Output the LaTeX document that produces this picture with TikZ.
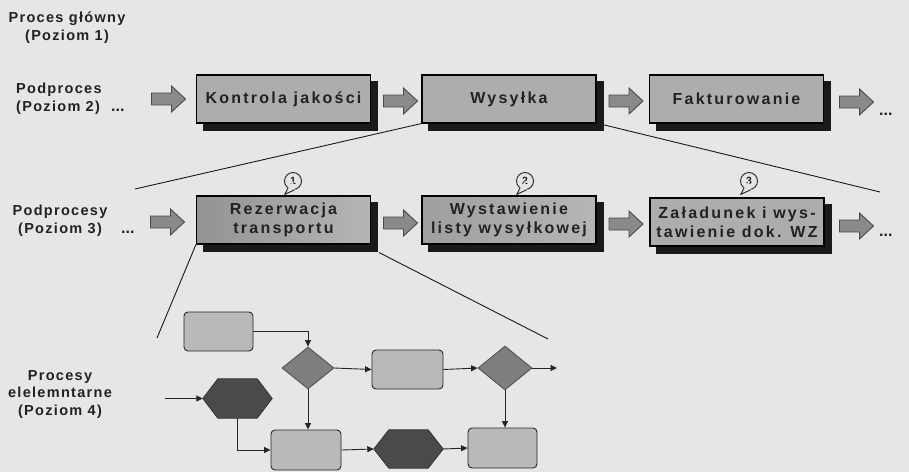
\documentclass[tikz,border=0pt]{standalone}
\usepackage{fontspec}
\setmainfont{Liberation Sans}
\usetikzlibrary{arrows.meta,shapes.geometric,shadows,calc}

\definecolor{pagebg}{HTML}{E6E6E6}
\definecolor{ink}{HTML}{222222}
\definecolor{boxfill}{HTML}{ADADAD}
\definecolor{boxshade}{HTML}{1A1A1A}
\definecolor{arrowfill}{HTML}{8A8A8A}
\definecolor{arrowline}{HTML}{4A4A4A}
\definecolor{stepfill}{HTML}{B9B9B9}
\definecolor{decfill}{HTML}{7E7E7E}
\definecolor{hexfill}{HTML}{4A4A4A}

\newcommand\boxfont{\fontsize{16}{19}\selectfont\bfseries\addfontfeature{LetterSpace=14}}
\newcommand\lblfont{\fontsize{14.5}{17.5}\selectfont\bfseries\addfontfeature{LetterSpace=9}}

% hexagonal event shape drawn over an invisible rectangular node
\newcommand\hexshape[1]{%
  \filldraw[hexstyle] (#1.west) -- ($(#1.north west)+(15,0)$) -- ($(#1.north east)+(-15,0)$)
    -- (#1.east) -- ($(#1.south east)+(-15,0)$) -- ($(#1.south west)+(15,0)$) -- cycle;}

\begin{document}
\begin{tikzpicture}[x=1pt,y=-1pt,
  procbox/.style={draw=black, line width=1.1pt, fill=boxfill, text=ink,
    minimum width=174pt, minimum height=48pt, inner sep=1pt, align=center, font=\boxfont,
    general shadow={shadow xshift=7pt, shadow yshift=-7pt, fill=boxshade, draw=boxshade}},
  lvllabel/.style={text=ink, font=\lblfont, align=center, inner sep=0pt},
  dots/.style={text=ink, inner sep=0pt, anchor=base west, font=\fontsize{16}{16}\selectfont\bfseries},
  fatarrow/.pic={\filldraw[fill=arrowfill, draw=arrowline, line width=0.9pt]
    (-17,-6) -- (3,-6) -- (3,-13) -- (17,0) -- (3,13) -- (3,6) -- (-17,6) -- cycle;},
  callout/.style={circle, draw=ink, line width=0.9pt, fill=pagebg, minimum size=17pt,
    inner sep=0pt, font=\fontsize{10.5}{10.5}\selectfont\bfseries, text=ink},
  stepbox/.style={rectangle, rounded corners=4pt, draw=black!85, line width=0.9pt,
    fill=stepfill, minimum width=69pt, minimum height=39pt, inner sep=0pt},
  decision/.style={diamond, draw=black!70, line width=0.8pt, fill=decfill,
    minimum width=52pt, minimum height=42pt, inner sep=0pt},
  hexnode/.style={rectangle, minimum width=69pt, minimum height=39pt, inner sep=0pt},
  hexstyle/.style={fill=hexfill, draw=black!80, line width=0.8pt},
  flow/.style={draw=black!85, line width=0.9pt, -{Triangle[length=6.5pt,width=6pt]}},
  zoomline/.style={draw=black!90, line width=0.9pt}
]
\fill[pagebg] (0,0) rectangle (909,472);
\useasboundingbox (0,0) rectangle (909,472);

% ---- level labels (anchored at the baseline of their last line) ----
\node[lvllabel, anchor=base] (l1) at (67,40) {Proces główny\\(Poziom 1)};
\node[lvllabel, anchor=base west, align=left] (l2) at (16,111) {Podproces\\(Poziom 2)};
\node[dots] (l2dots) at (111,111) {...};
\node[lvllabel, anchor=base] (l3) at (60,233) {Podprocesy\\(Poziom 3)};
\node[dots] (l3dots) at (121,233) {...};
\node[lvllabel, anchor=base] (l4) at (60,415) {Procesy\\elelemntarne\\(Poziom 4)};

% ---- level 2 ----
\node[procbox] (k) at (283.5,99) {Kontrola jakości};
\node[procbox] (w) at (509,99) {Wysyłka};
\node[procbox] (f) at (736.5,99) {Fakturowanie};
\pic at (168.5,99) {fatarrow};
\pic at (400.5,101) {fatarrow};
\pic at (626,101) {fatarrow};
\pic at (856.5,102) {fatarrow};
\node[dots] (r2dots) at (879,115) {...};

% ---- level 3 ----
\node[procbox, left color=boxfill!85!black, right color=boxfill!90!white, shading angle=90] (r) at (283.5,220) {Rezerwacja\\transportu};
\node[procbox, left color=boxfill!92!black, right color=boxfill!90!white] (ws) at (509,220) {Wystawienie\\listy wysyłkowej};
\node[procbox] (z) at (737,222) {Załadunek i wys-\\tawienie dok. WZ};
\pic at (167.5,222) {fatarrow};
\pic at (400.5,223) {fatarrow};
\pic at (626,224) {fatarrow};
\pic at (856.5,226) {fatarrow};
\node[dots] (r3dots) at (879,236) {...};

% numbered callouts above the level-3 steps
\foreach \n/\cx in {1/293, 2/525, 3/749} {
  \node[callout] (c\n) at (\cx,181) {\n};
  \filldraw[fill=pagebg, draw=ink, line width=0.9pt]
    (c\n.235) -- ($(c\n.235)+(-3,6)$) -- (c\n.280);
  \fill[pagebg] (c\n.235) -- (c\n.center) -- (c\n.280) -- cycle;
}

% ---- zoom lines ----
\coordinate (za) at (135,189);
\coordinate (zb) at (880,192);
\coordinate (zc) at (157,338);
\coordinate (zd) at (548,339);
\draw[zoomline] (w.south west) -- (za);
\draw[zoomline] ($(w.south east)+(6,1)$) -- (zb);
\draw[zoomline] (r.south west) -- (zc);
\draw[zoomline] ($(r.south east)+(8,8)$) -- (zd);

% ---- level 4 ----
\node[stepbox] (a) at (218.5,331.5) {};
\node[decision] (d1) at (308,368) {};
\node[stepbox, minimum width=71pt] (b) at (407.5,369.5) {};
\node[decision, minimum width=54pt, minimum height=44pt] (d2) at (505,368) {};
\node[stepbox, minimum height=40pt] (e) at (502.5,448) {};
\node[stepbox, minimum width=70pt, minimum height=40pt] (c) at (306,450) {};
\node[hexnode] (h1) at (237.5,398.5) {};
\node[hexnode, minimum height=38pt] (h2) at (408.5,449) {};
\hexshape{h1}
\hexshape{h2}

\coordinate (in4) at (165,398.5);
\coordinate (out4) at (557,368);
\draw[flow] (a.east) -| (d1.north);
\draw[flow] (d1.east) -- (b.west);
\draw[flow] (b.east) -- (d2.west);
\draw[flow] (d2.east) -- (out4);
\draw[flow] (d2.south) -- (d2.south |- e.north);
\draw[flow] (d1.south) -- (d1.south |- c.north);
\draw[flow] (in4) -- (h1.west);
\draw[flow] (h1.south) |- (c.west);
\draw[flow] (c.east) -- (h2.west);
\draw[flow] (h2.east) -- (e.west);
\end{tikzpicture}
\end{document}
